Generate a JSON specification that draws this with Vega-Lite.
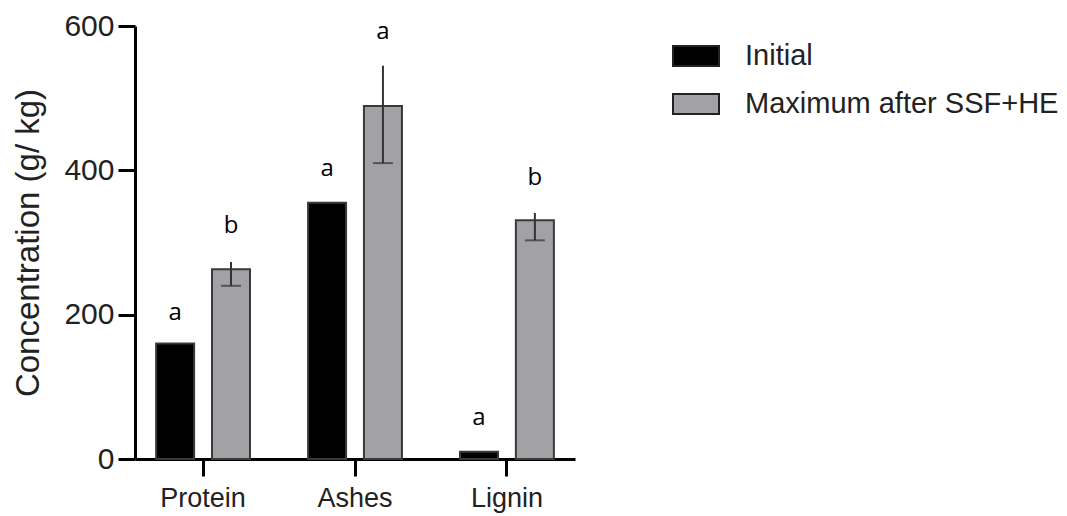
{
  "$schema": "https://vega.github.io/schema/vega-lite/v6.json",
  "width": 440,
  "height": 433,
  "autosize": {"type": "none"},
  "padding": {"left": 135, "top": 26, "right": 492, "bottom": 57},
  "background": "white",
  "config": {
    "view": {"stroke": null},
    "font": "Liberation Sans",
    "axis": {"grid": false, "domainColor": "#000", "domainWidth": 3, "tickColor": "#000", "tickWidth": 3, "labelColor": "#222", "labelFont": "Liberation Sans", "titleFont": "Liberation Sans"}
  },
  "data": {
    "values": [
      {"component": "Protein", "series": "Initial", "value": 160, "low": null, "high": null, "letter": "a", "letterY": 202},
      {"component": "Protein", "series": "Maximum after SSF+HE", "value": 263, "low": 240, "high": 273, "letter": "b", "letterY": 323},
      {"component": "Ashes", "series": "Initial", "value": 355, "low": null, "high": null, "letter": "a", "letterY": 402},
      {"component": "Ashes", "series": "Maximum after SSF+HE", "value": 489, "low": 410, "high": 545, "letter": "a", "letterY": 592},
      {"component": "Lignin", "series": "Initial", "value": 10, "low": null, "high": null, "letter": "a", "letterY": 57},
      {"component": "Lignin", "series": "Maximum after SSF+HE", "value": 331, "low": 303, "high": 341, "letter": "b", "letterY": 389}
    ]
  },
  "encoding": {
    "x": {
      "field": "component", "type": "nominal", "sort": null,
      "scale": {"paddingInner": 0.382, "paddingOuter": 0.139},
      "axis": {"title": null, "labelAngle": 0, "labelFontSize": 27, "tickSize": 17, "labelPadding": 9}
    },
    "xOffset": {"field": "series", "type": "nominal", "sort": null, "scale": {"paddingInner": 0.32, "paddingOuter": 0}}
  },
  "layer": [
    {
      "mark": {"type": "bar", "stroke": "#3a3a3a", "strokeWidth": 2},
      "encoding": {
        "y": {
          "field": "value", "type": "quantitative",
          "scale": {"domain": [0, 600], "nice": false},
          "axis": {"values": [0, 200, 400, 600], "title": "Concentration (g/ kg)", "titleFontSize": 33, "titleFontWeight": "normal", "titleColor": "#222", "titlePadding": 18, "labelFontSize": 30, "tickSize": 17, "labelPadding": 4}
        },
        "color": {
          "field": "series", "type": "nominal", "sort": null,
          "scale": {"domain": ["Initial", "Maximum after SSF+HE"], "range": ["#000000", "#A2A1A6"]},
          "legend": {
            "title": null, "orient": "none", "legendX": 537, "legendY": 6, "padding": 0,
            "symbolType": "M-1,-0.435H1V0.435H-1Z", "symbolSize": 2116,
            "symbolStrokeColor": "#222", "symbolStrokeWidth": 2,
            "labelFontSize": 29, "labelColor": "#222", "labelOffset": 25, "rowPadding": 9, "labelLimit": 0
          }
        }
      }
    },
    {
      "mark": {"type": "rule", "color": "#333", "strokeWidth": 2},
      "transform": [{"filter": "datum.low != null"}],
      "encoding": {
        "y": {"field": "low", "type": "quantitative"},
        "y2": {"field": "high"}
      }
    },
    {
      "mark": {"type": "tick", "color": "#333", "size": 20, "thickness": 2},
      "transform": [{"filter": "datum.low != null"}],
      "encoding": {
        "y": {"field": "low", "type": "quantitative"}
      }
    },
    {
      "mark": {"type": "text", "font": "Open Sans", "fontSize": 24, "color": "#000", "baseline": "middle", "align": "center"},
      "encoding": {
        "y": {"field": "letterY", "type": "quantitative"},
        "text": {"field": "letter"}
      }
    }
  ]
}
